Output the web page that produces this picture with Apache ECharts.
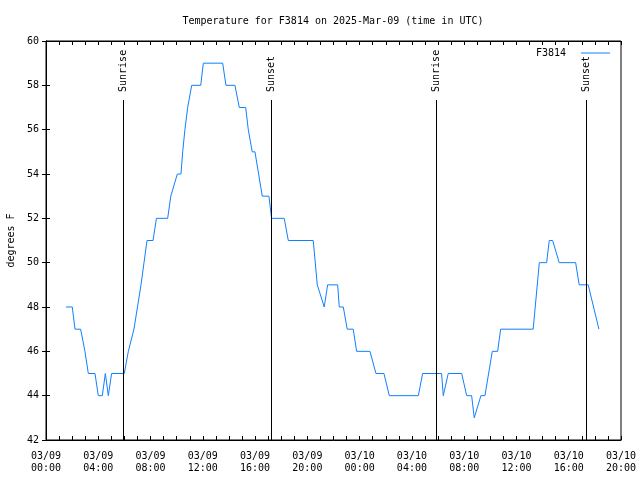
<!DOCTYPE html>
<html>
<head>
<meta charset="utf-8">
<script src="https://cdn.jsdelivr.net/npm/echarts@6/dist/echarts.min.js"></script>
<style>html,body{margin:0;padding:0;background:#fff;}#c{width:640px;height:480px;}</style>
</head>
<body>
<div id="c"></div>
<script>
// hours since 2025-03-09 00:00 UTC
const hours = [1.53,2.01,2.22,2.65,2.98,3.24,3.75,4.00,4.31,4.54,4.77,5.02,5.99,6.30,6.43,6.73,7.00,7.27,7.50,7.73,8.19,8.45,9.31,9.55,9.70,10.05,10.33,10.46,10.63,10.84,11.15,11.84,12.04,13.52,13.77,14.46,14.79,15.28,15.48,15.78,15.99,16.55,17.06,17.26,18.23,18.54,20.45,20.76,20.91,21.29,21.55,22.32,22.44,22.75,23.05,23.51,23.77,24.79,25.25,25.86,26.27,28.49,28.82,30.27,30.40,30.78,31.81,32.19,32.57,32.77,33.28,33.59,34.15,34.56,34.79,37.28,37.75,38.31,38.51,38.77,39.27,40.53,40.80,41.49,42.31];
const temps = [48,48,47,47,46,45,45,44,44,45,44,45,45,46,46,47,48,49,50,51,51,52,52,53,53,54,54,55,56,57,58,58,59,59,58,58,57,57,56,55,55,53,53,52,52,51,51,49,49,48,49,49,48,48,47,47,46,46,45,45,44,44,45,45,44,45,45,44,44,43,44,44,46,46,47,47,50,50,51,51,50,50,49,49,47];
const sunNames = ['Sunrise','Sunset','Sunrise','Sunset'];
const sunHours = [5.89,17.26,29.86,41.37];
const xTickLabels = ['03/09\n00:00','03/09\n04:00','03/09\n08:00','03/09\n12:00','03/09\n16:00','03/09\n20:00','03/10\n00:00','03/10\n04:00','03/10\n08:00','03/10\n12:00','03/10\n16:00','03/10\n20:00'];
const yMin = 42, yMax = 60, yStep = 2;
const seriesName = 'F3814';
const titleText = 'Temperature for F3814 on 2025-Mar-09 (time in UTC)';
const yName = 'degrees F';

const FONT = 'DejaVu Sans Mono';
const chart = echarts.init(document.getElementById('c'), null, {renderer:'canvas'});

const sunLines = [];
sunHours.forEach((h, i) => {
  sunLines.push([{coord:[h, yMin]}, {coord:[h, 57.34]}]);
  sunLines.push([{coord:[h, 57.7], lineStyle:{color:'rgba(0,0,0,0)', width:0},
    label:{show:true, formatter:sunNames[i], position:'insideStart', distance:0,
      color:'#000', fontFamily:FONT, fontSize:10}}, {coord:[h, yMax]}]);
});

const xMax = (xTickLabels.length - 1) * 4;
const axisCommon = {
  axisLine:{show:true, lineStyle:{color:'#000', width:1}},
  splitLine:{show:false}
};

chart.setOption({
  animation:false,
  backgroundColor:'#fff',
  title:{text:titleText, left:328, top:11, textAlign:'center',
    textStyle:{fontFamily:FONT, fontSize:10, fontWeight:'normal', color:'#000'}},
  legend:{data:[seriesName], right:25, top:43, align:'right', icon:'rect', itemWidth:29, itemHeight:1,
    textStyle:{fontFamily:FONT, fontSize:10, color:'#000', padding:[0,10,0,0]}},
  grid:{left:46, right:19, top:41, bottom:40, show:true, borderColor:'#000', borderWidth:1,
    containLabel:false, outerBoundsMode:'none'},
  xAxis:[
    Object.assign({type:'value', min:0, max:xMax, interval:4, position:'bottom',
      axisTick:{show:true, inside:true, length:4, lineStyle:{color:'#000'}},
      minorTick:{show:true, splitNumber:4, length:4, lineStyle:{color:'#000'}},
      axisLabel:{margin:10, fontFamily:FONT, fontSize:10, color:'#000', lineHeight:12,
        formatter:(v)=>xTickLabels[Math.round(v/4)]}}, axisCommon),
    Object.assign({type:'value', min:0, max:xMax, interval:4, position:'top',
      axisTick:{show:true, inside:true, length:4, lineStyle:{color:'#000'}},
      minorTick:{show:true, splitNumber:4, length:4, lineStyle:{color:'#000'}},
      axisLabel:{show:false}}, axisCommon)
  ],
  yAxis:[
    Object.assign({type:'value', min:yMin, max:yMax, interval:yStep, position:'left',
      name:yName, nameLocation:'middle', nameRotate:90, nameGap:28,
      nameTextStyle:{fontFamily:FONT, fontSize:10, color:'#000'},
      axisTick:{show:true, inside:true, length:4, lineStyle:{color:'#000'}},
      axisLabel:{margin:7, fontFamily:FONT, fontSize:10, color:'#000'}}, axisCommon),
    Object.assign({type:'value', min:yMin, max:yMax, interval:yStep, position:'right',
      axisTick:{show:true, inside:true, length:4, lineStyle:{color:'#000'}},
      axisLabel:{show:false}}, axisCommon)
  ],
  series:[{
    name:seriesName, type:'line', xAxisIndex:0, yAxisIndex:0,
    data:hours.map((h,i)=>[h, temps[i]]),
    showSymbol:false, symbol:'none',
    lineStyle:{color:'#1080ff', width:1}, itemStyle:{color:'#1080ff'},
    markLine:{silent:true, symbol:['none','none'], animation:false,
      lineStyle:{color:'#000', width:1, type:'solid'},
      label:{show:false},
      data:sunLines}
  }]
});
</script>
</body>
</html>
